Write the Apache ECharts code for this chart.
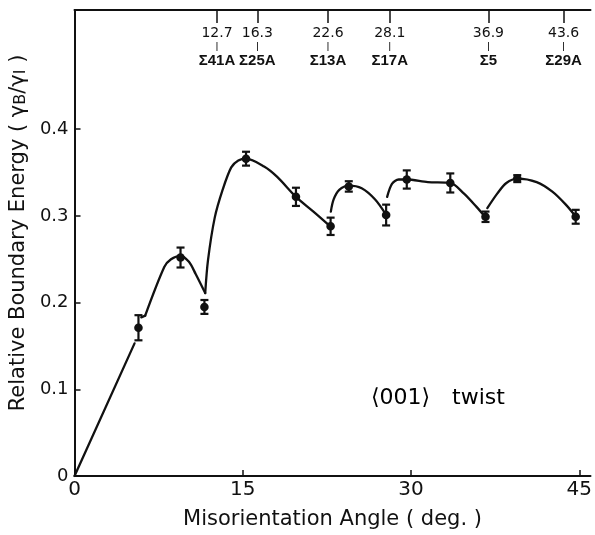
<!DOCTYPE html>
<html>
<head>
<meta charset="utf-8">
<style>
  html, body { margin: 0; padding: 0; background: #fff; }
  #chart { width: 595px; height: 535px; }
</style>
<script src="https://cdn.jsdelivr.net/npm/echarts@6/dist/echarts.min.js"></script>
</head>
<body>
<div id="chart"></div>
<script>
// Measured boundary energies for (001) twist boundaries
const angles   = [5.7, 9.45, 11.58, 15.29, 19.74, 22.83, 24.45, 27.78, 29.62, 33.5, 36.64, 39.47, 44.68];
const energies = [0.171, 0.252, 0.195, 0.366, 0.322, 0.288, 0.334, 0.301, 0.342, 0.338, 0.299, 0.343, 0.299];
const errors   = [0.0145, 0.0115, 0.008, 0.008, 0.0105, 0.010, 0.006, 0.012, 0.0105, 0.011, 0.006, 0.004, 0.008];

// Hand-fitted guide curve, drawn as separate pieces
const curveStart   = [[0, 0], [5.35, 0.153]];
const curveKink    = [[5.95, 0.183], [6.3, 0.185]];
const curveRise    = [[6.3, 0.185], [8.0, 0.241], [8.6, 0.250], [9.45, 0.254], [10.2, 0.247], [10.8, 0.233], [11.65, 0.211]];
const curveSigma25 = [[11.65, 0.211], [11.9, 0.249], [12.5, 0.298], [13.2, 0.330], [13.97, 0.356], [14.6, 0.364], [15.3, 0.366], [16.9, 0.357], [18.07, 0.345], [19.74, 0.322], [21.3, 0.305], [22.8, 0.288]];
const curveSigma13 = [[22.85, 0.305], [23.1, 0.319], [23.6, 0.330], [24.44, 0.335], [25.6, 0.332], [26.8, 0.319], [27.8, 0.301]];
const curveSigma17 = [[27.87, 0.322], [28.3, 0.337], [28.9, 0.342], [29.6, 0.342], [31.5, 0.339], [33.5, 0.338], [34.7, 0.326], [35.8, 0.311], [36.6, 0.299]];
const curveSigma5  = [[36.8, 0.309], [37.7, 0.326], [38.5, 0.338], [39.5, 0.343], [41.2, 0.339], [42.6, 0.328], [43.8, 0.313], [44.7, 0.299]];

// Special (CSL) misorientations marked along the top
const sigmaAngles = [12.7, 16.3, 22.6, 28.1, 36.9, 43.6];
const sigmaNames  = ['Σ41A', 'Σ25A', 'Σ13A', 'Σ17A', 'Σ5', 'Σ29A'];

// Tick labels
const xTicks = [0, 15, 30, 45];
const yTicks = [0, 0.1, 0.2, 0.3, 0.4];

// Inset caption and where it sits (data coordinates)
const caption = ['⟨001⟩', 'twist'];
const captionAt = [32.4, 0.090];

const FONT = 'DejaVu Sans';
const INK = '#111';

const chart = echarts.init(document.getElementById('chart'), null, { renderer: 'canvas' });

const curveSeries = [curveStart, curveKink, curveRise, curveSigma25, curveSigma13, curveSigma17, curveSigma5].map(seg => ({
  type: 'line',
  data: seg,
  smooth: 0.3,
  symbol: 'none',
  lineStyle: { color: INK, width: 2.3, cap: 'round', join: 'round' },
  silent: true,
  z: 2
}));

const pointSeries = {
  type: 'custom',
  data: angles.map((a, i) => [a, energies[i], errors[i]]),
  renderItem: function (params, api) {
    const x = api.value(0), y = api.value(1), e = api.value(2);
    const c = api.coord([x, y]);
    const top = api.coord([x, y + e]);
    const bot = api.coord([x, y - e]);
    const cap = 4;
    const st = { stroke: INK, lineWidth: 2.2 };
    return {
      type: 'group',
      children: [
        { type: 'line', shape: { x1: c[0], y1: top[1], x2: c[0], y2: bot[1] }, style: st },
        { type: 'line', shape: { x1: c[0] - cap, y1: top[1], x2: c[0] + cap, y2: top[1] }, style: st },
        { type: 'line', shape: { x1: c[0] - cap, y1: bot[1], x2: c[0] + cap, y2: bot[1] }, style: st },
        { type: 'circle', shape: { cx: c[0], cy: c[1], r: 4.3 }, style: { fill: INK } }
      ]
    };
  },
  z: 3
};

const option = {
  backgroundColor: '#fff',
  animation: false,
  grid: { left: 74, top: 10, width: 524, height: 466 },
  xAxis: [
    {
      type: 'value',
      min: 0, max: 46,
      name: 'Misorientation Angle ( deg. )',
      nameLocation: 'middle',
      nameGap: 33,
      nameTextStyle: { fontFamily: FONT, fontSize: 21, color: INK },
      axisLine: { show: true, lineStyle: { color: INK, width: 2 } },
      axisTick: { show: true, inside: true, length: 6, customValues: xTicks, lineStyle: { color: INK, width: 1.5 } },
      axisLabel: { customValues: xTicks, fontFamily: FONT, fontSize: 20, color: INK, margin: 4 },
      splitLine: { show: false }
    },
    {
      type: 'value',
      position: 'top',
      min: 0, max: 46,
      axisLine: { show: true, onZero: false, lineStyle: { color: INK, width: 2 } },
      axisTick: { show: true, inside: true, length: 13, customValues: sigmaAngles, lineStyle: { color: INK, width: 1.5 } },
      axisLabel: {
        show: true,
        inside: true,
        hideOverlap: false,
        margin: 16,
        customValues: sigmaAngles,
        formatter: function (v) {
          const i = sigmaAngles.indexOf(v);
          return '{n|' + v.toFixed(1) + '}\n{b||}\n{s|' + (i >= 0 ? sigmaNames[i] : '') + '}';
        },
        rich: {
          n: { fontFamily: FONT, fontSize: 14, color: INK, lineHeight: 15 },
          b: { fontFamily: FONT, fontSize: 8, fontWeight: 'bold', color: INK, lineHeight: 11 },
          s: { fontFamily: 'Liberation Sans', fontSize: 15, fontWeight: 'bold', color: INK, lineHeight: 18 }
        }
      },
      splitLine: { show: false }
    }
  ],
  yAxis: {
    type: 'value',
    min: 0, max: 0.5375,
    name: 'Relative Boundary Energy ( {g|γ}{sub|B}/{g|γ}{sub|I} )',
    nameLocation: 'middle',
    nameGap: 35,
    nameRotate: 90,
    nameTextStyle: {
      fontFamily: FONT, fontSize: 21, color: INK, padding: [0, 0, 0, 20],
      rich: {
        g: { fontFamily: FONT, fontSize: 21, color: INK },
        sub: { fontFamily: FONT, fontSize: 16, color: INK, verticalAlign: 'bottom' }
      }
    },
    axisLine: { show: true, lineStyle: { color: INK, width: 2 } },
    axisTick: { show: true, inside: true, length: 6, customValues: yTicks, lineStyle: { color: INK, width: 1.5 } },
    axisLabel: {
      customValues: yTicks,
      formatter: v => (v === 0 ? '0' : v.toFixed(1)),
      fontFamily: FONT, fontSize: 18, color: INK, margin: 6
    },
    splitLine: { show: false }
  },
  series: [...curveSeries, pointSeries]
};

chart.setOption(option);

// Caption placed from its data position
const at = chart.convertToPixel({ gridIndex: 0 }, captionAt);
chart.setOption({
  graphic: [{
    type: 'text',
    x: at[0],
    y: at[1],
    style: {
      text: '{a|' + caption[0] + '}{b|' + caption[1] + '}',
      align: 'center',
      verticalAlign: 'middle',
      rich: {
        a: { fontFamily: FONT, fontSize: 22, fill: '#000', padding: [0, 22, 0, 0] },
        b: { fontFamily: FONT, fontSize: 22, fill: '#000' }
      }
    },
    silent: true
  }]
});
</script>
</body>
</html>
